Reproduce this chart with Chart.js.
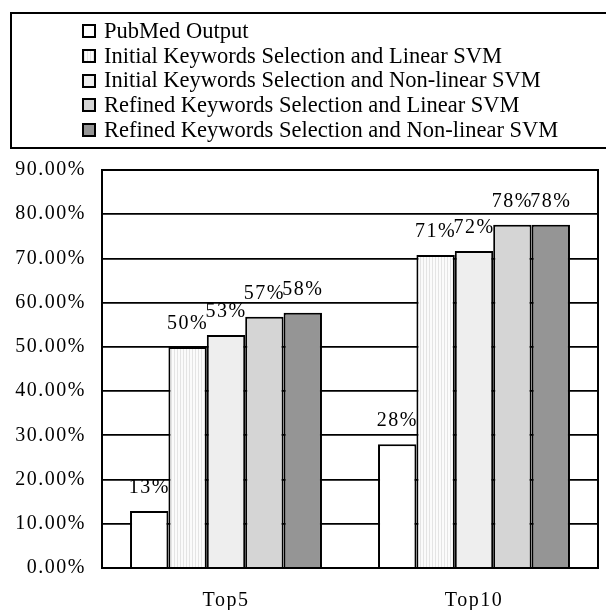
<!DOCTYPE html>
<html>
<head>
<meta charset="utf-8">
<script src="https://cdn.jsdelivr.net/npm/chart.js"></script>
<style>
  body { margin: 0; background: #fff; }
  #wrap { position: relative; width: 606px; height: 610px; overflow: hidden; }
  #chart { position: absolute; left: 0; top: 0; }
  #legend {
    position: absolute; left: 10px; top: 12px; width: 640px; height: 133px;
    border: 2px solid #000; box-sizing: content-box;
    font-family: "Liberation Serif", "Times New Roman", serif; font-size: 22.5px;
  }
  #legend ul { list-style: none; margin: 0; padding: 5px 0 0 70px; }
  #legend li { height: 24.7px; line-height: 24.7px; display: flex; align-items: center; white-space: nowrap; }
  #legend .box { width: 10px; height: 10px; border: 2px solid #000; margin-right: 8px; flex: none; }
</style>
</head>
<body>
<div id="wrap">
  <canvas id="chart" width="606" height="610"></canvas>
  <div id="legend"><ul id="legendList"></ul></div>
</div>
<script>
const categories = ['Top5', 'Top10'];
const seriesNames = [
  'PubMed Output',
  'Initial Keywords Selection and Linear SVM',
  'Initial Keywords Selection and Non-linear SVM',
  'Refined Keywords Selection and Linear SVM',
  'Refined Keywords Selection and Non-linear SVM'
];
const pubmed = [12.9, 28];
const initLinear = [50, 70.8];
const initNonlinear = [52.7, 71.7];
const refinedLinear = [56.8, 77.6];
const refinedNonlinear = [57.7, 77.6];
const yTicks = [0, 10, 20, 30, 40, 50, 60, 70, 80, 90];

// light vertical stripes for the second series
function stripes() {
  const c = document.createElement('canvas');
  c.width = 3; c.height = 3;
  const g = c.getContext('2d');
  g.fillStyle = '#fbfbfb'; g.fillRect(0, 0, 3, 3);
  g.fillStyle = '#e4e4e4'; g.fillRect(0, 0, 1, 3);
  return g.createPattern(c, 'repeat');
}

const fills = ['#ffffff', stripes(), '#eeeeee', '#d5d5d5', '#959595'];
const cssFills = ['#ffffff', 'repeating-linear-gradient(90deg,#e4e4e4 0 1px,#fbfbfb 1px 3px)', '#eeeeee', '#d5d5d5', '#959595'];
const values = [pubmed, initLinear, initNonlinear, refinedLinear, refinedNonlinear];

const list = document.getElementById('legendList');
seriesNames.forEach((name, i) => {
  const li = document.createElement('li');
  li.innerHTML = `<span class="box" style="background:${cssFills[i]}"></span>${name}`;
  list.appendChild(li);
});

const valueLabels = {
  id: 'valueLabels',
  afterDatasetsDraw(chart) {
    const ctx = chart.ctx;
    ctx.save();
    ctx.font = '20px "Liberation Serif"';
    ctx.fillStyle = '#000';
    ctx.textAlign = 'center';
    ctx.textBaseline = 'middle';
    chart.data.datasets.forEach((ds, i) => {
      chart.getDatasetMeta(i).data.forEach((bar, j) => {
        ctx.fillText(Math.round(ds.data[j]) + '%', bar.x, bar.y - 23);
      });
    });
    ctx.restore();
  }
};

const frame = {
  id: 'frame',
  beforeDraw(chart) { chart.ctx.letterSpacing = '1.5px'; },
  afterDraw(chart) {
    const { ctx, chartArea: a } = chart;
    ctx.save();
    ctx.strokeStyle = '#000';
    ctx.lineWidth = 2;
    ctx.strokeRect(a.left, a.top, a.right - a.left, a.bottom - a.top);
    ctx.restore();
  }
};

new Chart(document.getElementById('chart'), {
  type: 'bar',
  data: {
    labels: categories,
    datasets: values.map((v, i) => ({
      label: seriesNames[i],
      data: v,
      backgroundColor: fills[i],
      borderColor: '#000',
      borderWidth: 2,
      categoryPercentage: 0.774,
      barPercentage: 1
    }))
  },
  options: {
    responsive: false,
    animation: false,
    layout: { padding: { top: 170, right: 8, left: 0, bottom: 0 } },
    plugins: { legend: { display: false }, tooltip: { enabled: false } },
    scales: {
      x: {
        afterFit(s) { s.height = 42; },
        grid: { display: false },
        border: { display: false },
        ticks: { color: '#000', padding: 13, font: { family: 'Liberation Serif', size: 20 } }
      },
      y: {
        min: 0, max: 90,
        afterBuildTicks(s) { s.ticks = yTicks.map(v => ({ value: v })); },
        afterFit(s) { s.width = 102; },
        grid: { color: '#000', lineWidth: 1.7, drawTicks: false },
        border: { display: false },
        ticks: {
          color: '#000', padding: 16,
          font: { family: 'Liberation Serif', size: 20 },
          callback: v => v.toFixed(2) + '%'
        }
      }
    }
  },
  plugins: [valueLabels, frame]
});
</script>
</body>
</html>
